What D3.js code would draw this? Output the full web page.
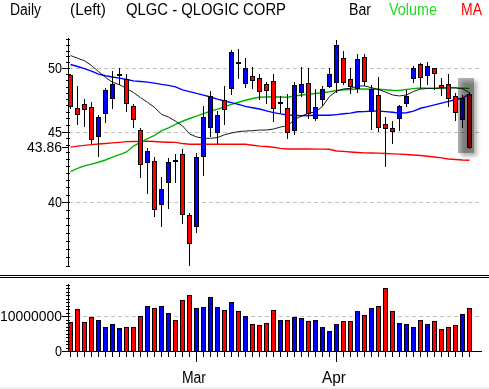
<!DOCTYPE html>
<html>
<head>
<meta charset="utf-8">
<script src="https://cdn.jsdelivr.net/npm/d3@7"></script>
<style>
  html, body { margin: 0; padding: 0; background: #fff; }
  svg { display: block; font-family: "Liberation Sans", Arial, sans-serif; }
</style>
</head>
<body>
<svg id="chart" width="489" height="389"></svg>
<script>
// Daily sessions, oldest first
const opens  = [49.45, 46.78, 47.09, 46.86, 44.69, 46.44, 47.61, 49.52, 49.12, 46.93,
                45.12, 42.80, 42.85, 39.89, 41.40, 42.93, 43.33, 39.14, 38.47, 43.23,
                45.37, 44.99, 47.43, 48.36, 50.55, 48.77, 49.34, 49.17, 48.69, 48.95,
                47.23, 46.80, 45.12, 48.09, 48.77, 46.00, 47.48, 48.57, 48.85, 50.84,
                49.09, 48.36, 50.92, 46.57, 47.80, 45.55, 45.25, 46.05, 47.17, 49.17,
                50.33, 49.42, 50.00, 48.63, 48.71, 47.72, 45.93, 47.90];
const highs  = [49.50, 48.55, 47.51, 47.29, 46.26, 48.36, 49.80, 50.00, 49.53, 47.11,
                45.25, 43.76, 43.16, 41.75, 43.08, 43.33, 43.71, 39.31, 43.40, 46.96,
                48.15, 46.57, 48.55, 51.55, 51.63, 50.84, 50.08, 49.50, 48.90, 49.53,
                47.75, 47.88, 48.85, 50.08, 50.05, 48.28, 48.55, 50.05, 52.41, 51.46,
                50.05, 51.21, 51.21, 48.63, 49.26, 46.13, 45.80, 47.04, 48.23, 50.19,
                50.42, 50.50, 50.05, 49.17, 49.53, 47.96, 47.83, 48.09];
const lows   = [46.80, 45.55, 45.42, 44.17, 43.23, 45.70, 46.82, 48.71, 46.59, 45.37,
                41.75, 40.60, 39.12, 38.47, 39.60, 41.35, 38.63, 36.03, 38.09, 41.86,
                44.67, 44.13, 45.55, 47.88, 49.22, 48.49, 48.41, 47.51, 47.17, 45.82,
                46.51, 44.54, 44.80, 47.75, 46.00, 45.87, 47.04, 48.49, 48.09, 48.71,
                48.01, 48.09, 48.63, 45.19, 45.07, 42.51, 44.17, 45.12, 46.96, 48.90,
                48.36, 48.71, 48.28, 47.83, 46.98, 45.87, 45.37, 43.81];
const closes = [46.96, 46.31, 46.75, 44.42, 46.08, 48.23, 48.71, 49.55, 47.17, 45.93,
                42.61, 43.57, 39.54, 40.88, 42.76, 42.91, 39.21, 37.36, 43.14, 46.08,
                47.75, 46.26, 46.75, 51.35, 50.51, 50.00, 49.06, 48.17, 48.23, 46.82,
                47.27, 44.94, 48.63, 48.71, 46.39, 46.90, 48.33, 49.50, 51.95, 48.90,
                48.57, 50.76, 48.98, 48.28, 45.32, 45.29, 45.02, 46.93, 47.77, 50.00,
                49.26, 50.19, 49.59, 48.44, 47.56, 46.47, 47.56, 43.86];
const volumes = [8200000, 11900000, 8200000, 9600000, 9000000, 6800000, 7600000, 6500000, 6800000, 7000000,
                 9900000, 13000000, 12200000, 13000000, 10800000, 8800000, 14500000, 15900000, 12200000, 12500000,
                 15300000, 12500000, 11600000, 13900000, 11300000, 9900000, 7600000, 7300000, 7900000, 11600000,
                 8800000, 8800000, 9600000, 9300000, 8500000, 8800000, 6800000, 5600000, 7600000, 8500000,
                 8500000, 11300000, 10200000, 12200000, 13000000, 17900000, 11300000, 7900000, 7600000, 6800000,
                 9000000, 7600000, 8500000, 6200000, 7000000, 7300000, 10500000, 12200000];

// Moving averages
const maBlack = [51.07, 50.85, 50.63, 50.23, 49.73, 49.24, 48.85, 48.65, 48.36, 48.02,
                 47.62, 47.24, 46.85, 46.31, 46.10, 45.79, 45.43, 44.83, 44.60, 44.50,
                 44.50, 44.55, 44.76, 44.89, 45.00, 45.04, 45.07, 45.11, 45.12, 45.19,
                 45.34, 45.43, 45.90, 46.17, 46.41, 46.49, 46.93, 47.71, 48.13, 48.31,
                 48.36, 48.53, 48.56, 48.41, 48.27, 48.06, 47.83, 47.75, 47.83, 48.11,
                 48.30, 48.35, 48.36, 48.38, 48.40, 48.40, 48.32, 48.01];
const maBlue  = [50.32, 50.15, 49.98, 49.76, 49.52, 49.38, 49.28, 49.19, 49.08, 48.96,
                 48.91, 48.86, 48.78, 48.68, 48.60, 48.48, 48.24, 48.10, 47.95, 47.82,
                 47.67, 47.50, 47.35, 47.22, 47.08, 46.93, 46.82, 46.72, 46.58, 46.44,
                 46.35, 46.26, 46.23, 46.20, 46.22, 46.24, 46.25, 46.24, 46.29, 46.35,
                 46.40, 46.51, 46.52, 46.57, 46.56, 46.52, 46.47, 46.40, 46.43, 46.56,
                 46.78, 46.91, 47.05, 47.18, 47.32, 47.45, 47.59, 47.90];
const maGreen = [42.10, 42.32, 42.50, 42.63, 42.76, 42.92, 43.12, 43.31, 43.50, 43.93,
                 44.19, 44.48, 44.71, 45.07, 45.27, 45.55, 45.78, 45.99, 46.17, 46.37,
                 46.55, 46.72, 46.89, 47.09, 47.25, 47.41, 47.55, 47.65, 47.67, 47.69,
                 47.67, 47.65, 47.75, 47.83, 47.89, 47.95, 48.01, 48.08, 48.18, 48.24,
                 48.27, 48.30, 48.30, 48.29, 48.28, 48.25, 48.20, 48.19, 48.28, 48.34,
                 48.39, 48.38, 48.36, 48.39, 48.41, 48.40, 48.37, 48.35];
const maRed   = [43.85, 43.92, 43.98, 44.03, 44.08, 44.12, 44.16, 44.20, 44.25, 44.26,
                 44.27, 44.28, 44.26, 44.23, 44.21, 44.20, 44.11, 44.06, 44.06, 44.06,
                 44.06, 44.06, 44.06, 44.06, 44.06, 44.06, 43.99, 43.92, 43.89, 43.84,
                 43.76, 43.71, 43.71, 43.71, 43.71, 43.70, 43.70, 43.69, 43.57, 43.54,
                 43.50, 43.46, 43.43, 43.42, 43.41, 43.39, 43.36, 43.34, 43.31, 43.28,
                 43.24, 43.19, 43.13, 43.07, 42.99, 42.96, 42.92, 42.90];

// Month starts (session index) and their labels
const monthIdx = [18, 38];
const monthLabels = ['Mar', 'Apr'];
const priceTicks = [40, 45, 50];
const volumeTicks = [0, 10000000];

const RED = '#ff0000', BLUE = '#0000ff', GREEN = '#00b400';

const svg = d3.select('#chart');
const n = opens.length;

// Scales
const x = d3.scaleBand().domain(d3.range(n)).range([66.5, 66.5 + 7 * n]);
const cx = i => Math.round(x(i) + x.bandwidth() / 2);

const y = d3.scaleLog().domain([40, 50]).range([202.3, 68.3]);
y.domain([y.invert(267), y.invert(38)]).range([267, 38]);
const yv = d3.scaleLinear().domain([0, 19000000]).range([351, 284.5]);

const px = v => Math.round(v) + 0.5;

function label(g, tx, ty, str, len, anchor, color, size) {
  g.append('text')
    .attr('x', tx).attr('y', ty)
    .attr('text-anchor', anchor || 'start')
    .attr('textLength', len)
    .attr('lengthAdjust', 'spacingAndGlyphs')
    .attr('fill', color || '#000')
    .style('font-size', (size || 14) + 'px')
    .text(str);
}

// Title line
const head = svg.append('g');
label(head, 10, 15, 'Daily', 31, 'start', '#000', 16);
label(head, 70, 15, '(Left)', 36, 'start', '#000', 16);
label(head, 126, 15, 'QLGC - QLOGIC CORP', 160, 'start', '#000', 16);
label(head, 349, 15, 'Bar', 22, 'start', '#000', 16);
label(head, 389, 15, 'Volume', 48, 'start', '#22dd22', 16);
label(head, 461, 15, 'MA', 21, 'start', RED, 16);

// ---- Price panel ----
const pg = svg.append('g').attr('shape-rendering', 'crispEdges');

pg.selectAll('.grid')
  .data(priceTicks)
  .enter().append('line')
  .attr('x1', 69).attr('x2', 481)
  .attr('y1', d => px(y(d))).attr('y2', d => px(y(d)))
  .attr('stroke', '#c0c0c0')
  .attr('stroke-dasharray', '4,3');

// axis line + ticks
pg.append('line')
  .attr('x1', 68.5).attr('x2', 68.5).attr('y1', 38).attr('y2', 267)
  .attr('stroke', '#000');

const minor = d3.range(36, 52.51, 0.5).filter(v => v >= y.domain()[0] && v <= y.domain()[1]);
pg.selectAll('.minor')
  .data(minor)
  .enter().append('line')
  .attr('x1', 66).attr('x2', 70)
  .attr('y1', d => px(y(d))).attr('y2', d => px(y(d)))
  .attr('stroke', '#000');

const lastClose = closes[n - 1];
pg.selectAll('.major')
  .data(priceTicks.concat([lastClose]))
  .enter().append('line')
  .attr('x1', 62).attr('x2', 69)
  .attr('y1', d => px(y(d))).attr('y2', d => px(y(d)))
  .attr('stroke', '#000');

priceTicks.forEach(v => label(svg, 62, y(v) + 5, String(v), 14, 'end'));
label(svg, 62, y(lastClose) + 5, lastClose.toFixed(2), 35, 'end');

// moving averages
const maLine = d3.line().x((d, i) => cx(i) + 0.5).y(d => y(d));
const ml = svg.append('g').attr('fill', 'none');
ml.append('path').datum(maRed).attr('d', maLine).attr('stroke', RED).attr('stroke-width', 1.4);
ml.append('path').datum(maGreen).attr('d', maLine).attr('stroke', GREEN).attr('stroke-width', 1.4);
ml.append('path').datum(maBlue).attr('d', maLine).attr('stroke', BLUE).attr('stroke-width', 1.4);
ml.append('path').datum(maBlack).attr('d', maLine).attr('stroke', '#000').attr('stroke-width', 0.9);

// candles
const cg = svg.append('g').attr('shape-rendering', 'crispEdges');
const idx = d3.range(n);
cg.selectAll('.wick')
  .data(idx)
  .enter().append('line')
  .attr('x1', i => cx(i) + 0.5).attr('x2', i => cx(i) + 0.5)
  .attr('y1', i => Math.round(y(highs[i]))).attr('y2', i => Math.round(y(lows[i])) + 1)
  .attr('stroke', '#000');

cg.selectAll('.body')
  .data(idx)
  .enter().append('rect')
  .attr('x', i => cx(i) - 1.5)
  .attr('y', i => Math.round(y(Math.max(opens[i], closes[i]))) + 0.5)
  .attr('width', 4)
  .attr('height', i => Math.max(1, Math.round(y(Math.min(opens[i], closes[i]))) - Math.round(y(Math.max(opens[i], closes[i])))))
  .attr('fill', i => closes[i] >= opens[i] ? BLUE : RED)
  .attr('stroke', '#000');

// highlight on the last two sessions
const defs = svg.append('defs');
defs.append('filter').attr('id', 'blur').attr('x', '-50%').attr('y', '-50%').attr('width', '200%').attr('height', '200%')
  .append('feGaussianBlur').attr('stdDeviation', 2.2);
const hx0 = x(n - 2) - 0.5, hx1 = x(n - 1) + 7 + 1.5;
const hy0 = Math.round(y(d3.max(highs.slice(n - 2)))) - 14;
const hy1 = Math.round(y(d3.min(lows.slice(n - 2)))) + 5;
svg.append('rect')
  .attr('x', hx0 + 3).attr('y', hy0 + 3).attr('width', hx1 - hx0).attr('height', hy1 - hy0)
  .attr('fill', '#b0b0b0').attr('filter', 'url(#blur)')
  .style('mix-blend-mode', 'multiply');
svg.append('rect')
  .attr('x', hx0).attr('y', hy0).attr('width', hx1 - hx0).attr('height', hy1 - hy0)
  .attr('fill', '#b4b4b4')
  .style('mix-blend-mode', 'multiply');

// ---- separator ----
svg.append('g').attr('shape-rendering', 'crispEdges').selectAll('line')
  .data([275, 277]).enter().append('line')
  .attr('x1', 0).attr('x2', 489).attr('y1', d => d + 0.5).attr('y2', d => d + 0.5)
  .attr('stroke', '#000');

// ---- Volume panel ----
const vg = svg.append('g').attr('shape-rendering', 'crispEdges');
vg.append('line')
  .attr('x1', 69).attr('x2', 481).attr('y1', px(yv(10000000))).attr('y2', px(yv(10000000)))
  .attr('stroke', '#c0c0c0').attr('stroke-dasharray', '4,3');

vg.selectAll('.vbar')
  .data(idx)
  .enter().append('rect')
  .attr('x', i => cx(i) - 1.5)
  .attr('y', i => Math.round(yv(volumes[i])) + 0.5)
  .attr('width', 4)
  .attr('height', i => Math.round(yv(0)) - Math.round(yv(volumes[i])))
  .attr('fill', i => closes[i] >= opens[i] ? BLUE : RED)
  .attr('stroke', '#000');

vg.append('line')
  .attr('x1', 68.5).attr('x2', 68.5).attr('y1', 284).attr('y2', 352)
  .attr('stroke', '#000');
vg.append('line')
  .attr('x1', 68).attr('x2', 482).attr('y1', 351.5).attr('y2', 351.5)
  .attr('stroke', '#000');

vg.selectAll('.vminor')
  .data(d3.range(1000000, 19000001, 1000000))
  .enter().append('line')
  .attr('x1', 66).attr('x2', 70)
  .attr('y1', d => px(yv(d))).attr('y2', d => px(yv(d)))
  .attr('stroke', '#000');
vg.selectAll('.vmajor')
  .data(volumeTicks)
  .enter().append('line')
  .attr('x1', 62).attr('x2', 69)
  .attr('y1', d => px(yv(d))).attr('y2', d => px(yv(d)))
  .attr('stroke', '#000');
label(svg, 62, yv(10000000) + 5, '10000000', 62, 'end');
label(svg, 62, yv(0) + 5, '0', 7, 'end');

// session ticks along the bottom
vg.selectAll('.xt')
  .data(idx)
  .enter().append('line')
  .attr('x1', i => cx(i) + 0.5).attr('x2', i => cx(i) + 0.5)
  .attr('y1', 352).attr('y2', i => monthIdx.includes(i) ? 362 : 357)
  .attr('stroke', '#000');

monthIdx.forEach((m, k) => label(svg, cx(m) - 14, 383, monthLabels[k], 24, 'start', '#000', 16));

// bottom strip
svg.append('rect').attr('x', 0).attr('y', 387).attr('width', 489).attr('height', 2).attr('fill', '#f0f0f0');
</script>
</body>
</html>
